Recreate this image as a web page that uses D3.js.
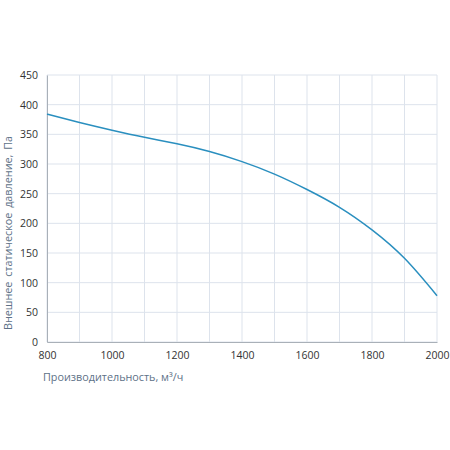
<!DOCTYPE html>
<html>
<head>
<meta charset="utf-8">
<script src="https://cdn.jsdelivr.net/npm/d3@7"></script>
<style>
  body { margin: 0; background: #fff; }
  text { font-family: "Open Sans", sans-serif; }
</style>
</head>
<body>
<script>
// curve
var flow = [800, 900, 1000, 1100, 1200, 1300, 1400, 1500, 1600, 1700, 1800, 1900, 2000];
var pressure = [384, 370, 357, 345, 334, 321, 304, 283, 257, 227, 189, 141, 78];
var xTicks = [800, 1000, 1200, 1400, 1600, 1800, 2000];
var yTicks = [0, 50, 100, 150, 200, 250, 300, 350, 400, 450];

var margin = {top: 75, right: 13, bottom: 108, left: 47},
    width = 450 - margin.left - margin.right,
    height = 450 - margin.top - margin.bottom;

var x = d3.scaleLinear().domain([800, 2000]).range([0, width]);
var y = d3.scaleLinear().domain([0, 450]).range([height, 0]);

var svg = d3.select("body").append("svg")
    .attr("width", 450)
    .attr("height", 450);
var g = svg.append("g")
    .attr("transform", "translate(" + margin.left + "," + margin.top + ")");

// grid
g.append("g")
  .selectAll("line")
  .data(d3.range(800, 2001, 100))
  .enter().append("line")
    .attr("x1", function(d) { return x(d); })
    .attr("x2", function(d) { return x(d); })
    .attr("y1", 0)
    .attr("y2", height)
    .attr("stroke", "#dde3ec");
g.append("g")
  .selectAll("line")
  .data(yTicks)
  .enter().append("line")
    .attr("x1", 0)
    .attr("x2", width)
    .attr("y1", function(d) { return y(d); })
    .attr("y2", function(d) { return y(d); })
    .attr("stroke", "#dde3ec");

// axes
var xAxis = g.append("g")
    .attr("transform", "translate(0," + height + ")")
    .call(d3.axisBottom(x).tickValues(xTicks).tickSize(0).tickPadding(10).tickFormat(d3.format("d")));
var yAxis = g.append("g")
    .call(d3.axisLeft(y).tickValues(yTicks).tickSize(0).tickPadding(9));
[xAxis, yAxis].forEach(function(a) {
  a.select(".domain").attr("stroke", "#a9b0b8");
  a.selectAll("text").attr("fill", "#333").style("font-size", "10.5px")
    .style("font-family", "'Open Sans', sans-serif");
});

// curve
g.append("path")
    .datum(flow.map(function(d, i) { return [d, pressure[i]]; }))
    .attr("fill", "none")
    .attr("stroke", "#2a8fbf")
    .attr("stroke-width", 1.5)
    .attr("d", d3.line()
      .x(function(d) { return x(d[0]); })
      .y(function(d) { return y(d[1]); })
      .curve(d3.curveNatural));

// titles
svg.append("text")
    .attr("x", 43)
    .attr("y", 381)
    .attr("fill", "#5d7187")
    .style("font-size", "10.8px")
    .text("Производительность, м³/ч");
svg.append("text")
    .attr("transform", "translate(12,233) rotate(-90)")
    .attr("text-anchor", "middle")
    .attr("fill", "#5d7187")
    .style("font-size", "10.8px")
    .style("word-spacing", "2px")
    .text("Внешнее статическое давление, Па");
</script>
</body>
</html>
